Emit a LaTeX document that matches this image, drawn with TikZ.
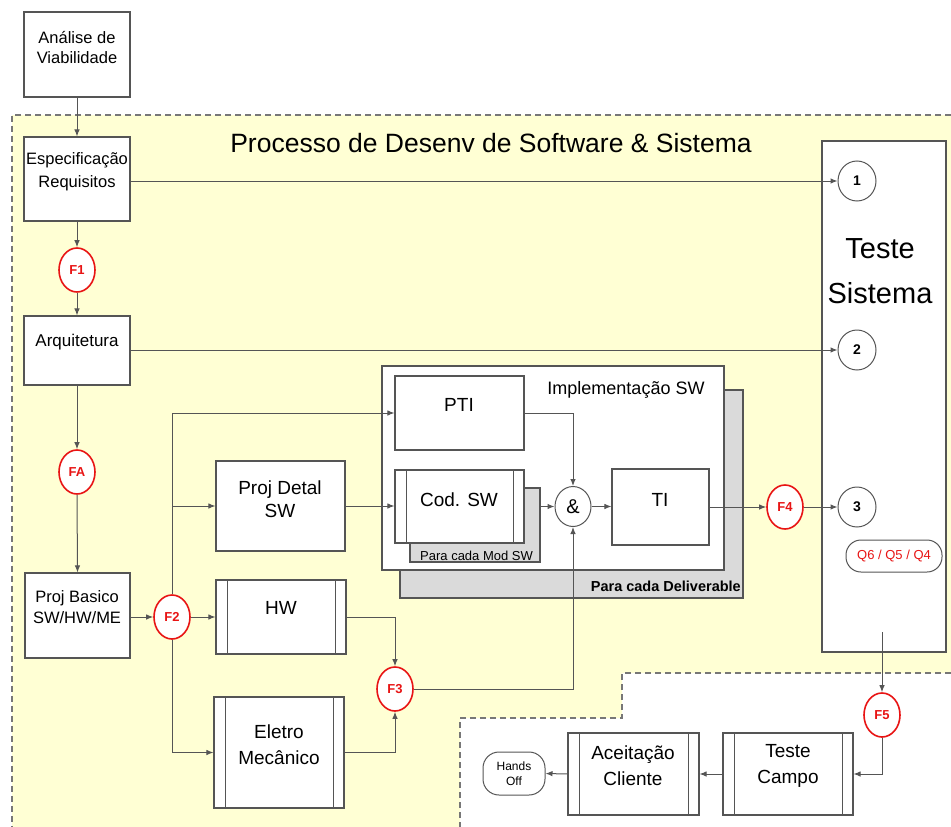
\documentclass[tikz,border=0pt]{standalone}
\usepackage{fontspec}
\setmainfont{Liberation Sans}
\usetikzlibrary{arrows.meta,shapes.geometric,calc}
\definecolor{bgyel}{RGB}{255,255,212}
\definecolor{ln}{RGB}{85,85,85}
\definecolor{shd}{RGB}{218,218,218}
\definecolor{fred}{RGB}{232,20,20}
\tikzset{
 box/.style={draw=ln, line width=1.1pt, fill=white, rectangle, inner sep=0pt},
 bars/.style={path picture={
   \draw[ln,line width=0.8pt] ([xshift=11pt]path picture bounding box.north west) -- ([xshift=11pt]path picture bounding box.south west);
   \draw[ln,line width=0.8pt] ([xshift=-11pt]path picture bounding box.north east) -- ([xshift=-11pt]path picture bounding box.south east);}},
 lblS/.style={font=\fontsize{17}{20}\selectfont, align=center, inner sep=0pt},
 lblM/.style={font=\fontsize{19}{23}\selectfont, align=center, inner sep=0pt},
 fnode/.style={ellipse, draw=fred, line width=1.6pt, fill=white, minimum width=36pt, minimum height=44pt, inner sep=0pt, text=fred, font=\bfseries\fontsize{13}{15}\selectfont},
 cnode/.style={ellipse, draw=ln, line width=1pt, fill=white, minimum width=38pt, minimum height=40pt, inner sep=0pt, font=\bfseries\fontsize{14}{16}\selectfont},
 arr/.style={draw=ln, line width=1pt, -{Latex[length=7pt,width=5.5pt]}},
 regdash/.style={draw=ln!80, line width=1.6pt, dash pattern=on 6pt off 4pt}
}
\begin{document}
\begin{tikzpicture}[x=1pt,y=-1pt]
\useasboundingbox (0,0) rectangle (951,827);
\fill[white] (0,0) rectangle (951,827);
% yellow region
\fill[bgyel] (12,115) -- (951,115) -- (951,673) -- (622,673) -- (622,718) -- (460,718) -- (460,827) -- (12,827) -- cycle;
\draw[regdash] (951,115) -- (12,115) -- (12,827);
\draw[regdash] (951,673) -- (622,673) -- (622,718) -- (460,718) -- (460,827);

\node[font=\fontsize{26.5}{30}\selectfont, inner sep=0pt] (title) at (491,143) {Processo de Desenv de Software \& Sistema};

% left column
\node[box, minimum width=106pt, minimum height=85pt] (ana) at (77,54.5) {};
\node[lblS, font=\fontsize{16.5}{20}\selectfont] (anat) at (77,48) {Análise de\\Viabilidade};
\node[box, minimum width=106pt, minimum height=84pt] (espec) at (77,179) {};
\node[lblS, font=\fontsize{16.5}{23}\selectfont] (espect) at (77,172) {Especificação\\Requisitos};
\node[fnode] (F1) at (77,270) {F1};
\node[box, minimum width=106pt, minimum height=69pt] (arq) at (77,350.5) {};
\node[lblS] (arqt) at (77,342) {Arquitetura};
\node[fnode] (FA) at (77,472) {FA};
\node[box, minimum width=105pt, minimum height=85pt] (pb) at (77.5,615.5) {};
\node[lblS, font=\fontsize{16.5}{21}\selectfont] (pbt) at (77,607) {Proj Basico\\SW/HW/ME};
\node[fnode] (F2) at (172,617) {F2};

% middle column
\node[box, minimum width=129pt, minimum height=90pt] (pd) at (280.5,506) {};
\node[lblM] (pdt) at (280,499) {Proj Detal\\SW};
\node[box, bars, minimum width=130pt, minimum height=74pt] (hw) at (281,617) {};
\node[lblM] (hwt) at (281,608) {HW};
\node[box, bars, minimum width=130pt, minimum height=111pt] (em) at (279,752.5) {};
\node[lblM, font=\fontsize{19}{26}\selectfont] (emt) at (279,745) {Eletro\\Mecânico};
\node[fnode] (F3) at (395,689) {F3};

% implementation block
\node[box, fill=shd, minimum width=343pt, minimum height=208pt] (deliv) at (571.5,494) {};
\node[font=\bfseries\fontsize{14.5}{16}\selectfont, anchor=east, inner sep=0pt] (delivt) at (741,586) {Para cada Deliverable};
\node[box, minimum width=342pt, minimum height=204pt] (impl) at (553,468) {};
\node[font=\fontsize{18}{20}\selectfont, inner sep=0pt] (implt) at (626,390) {Implementação SW};
\node[box, minimum width=129pt, minimum height=74pt] (pti) at (459.5,413) {};
\node[lblM] (ptit) at (459,405) {PTI};
\node[box, fill=shd, minimum width=130pt, minimum height=74pt] (cods) at (475,525) {};
\node[font=\fontsize{13}{15}\selectfont, anchor=west, inner sep=0pt] (codst) at (420,556) {Para cada Mod SW};
\node[box, bars, minimum width=129pt, minimum height=73pt] (cod) at (459.5,506.5) {};
\node[lblM] (codt) at (459,500) {Cod. SW};
\node[ellipse, draw=ln, line width=1pt, fill=white, minimum width=36pt, minimum height=40pt, inner sep=0pt, font=\fontsize{20}{22}\selectfont] (amp) at (573,506.5) {\&};
\node[box, minimum width=97pt, minimum height=76pt] (ti) at (660.5,507) {};
\node[lblM] (tit) at (660,500) {TI};
\node[fnode] (F4) at (785,507) {F4};

% Teste Sistema
\node[box, minimum width=124pt, minimum height=511pt] (ts) at (884,396.5) {};
\node[font=\fontsize{29}{45}\selectfont, align=center, inner sep=0pt] (tst) at (880,271) {Teste\\Sistema};
\node[cnode] (c1) at (857,181) {1};
\node[cnode] (c2) at (857,350) {2};
\node[cnode] (c3) at (857,507) {3};
\node[draw=ln, line width=1pt, fill=white, rounded corners=15pt, minimum width=96pt, minimum height=32pt, inner sep=0pt, text=fred, font=\fontsize{13}{15}\selectfont] (q) at (894,556) {Q6 / Q5 / Q4};
\coordinate (tsb) at (882,632);
\node[fnode] (F5) at (882,715) {F5};

% bottom row
\node[box, bars, minimum width=130pt, minimum height=82pt] (tc) at (788,774) {};
\node[lblM, font=\fontsize{19}{26}\selectfont] (tct) at (788,766) {Teste\\Campo};
\node[box, bars, minimum width=131pt, minimum height=82pt] (ac) at (633.5,774) {};
\node[lblM, font=\fontsize{19}{26}\selectfont] (act) at (633,766) {Aceitação\\Cliente};
\node[draw=ln, line width=1pt, fill=white, rounded corners=16pt, minimum width=62pt, minimum height=43pt, inner sep=0pt, align=center, font=\fontsize{12}{15}\selectfont] (ho) at (514,773.5) {Hands\\Off};

% connectors
\draw[arr] (ana.south) -- (espec.north);
\draw[arr] (espec.south) -- (F1.north);
\draw[arr] (F1.south) -- (arq.north);
\draw[arr] (arq.south) -- (FA.north);
\draw[arr] (FA.south) -- (pb.north);
\draw[arr] (espec.east |- c1.west) -- (c1.west);
\draw[arr] (arq.east |- c2.west) -- (c2.west);
\draw[arr] (pb.east |- F2.west) -- (F2.west);
\draw[arr] (F2.east) -- (hw.west);
\draw[arr] (F2.north) -- (F2.north |- pti.west) -- (pti.west);
\draw[arr] (F2.north |- pd.west) -- (pd.west);
\draw[arr] (F2.south) -- (F2.south |- em.west) -- (em.west);
\draw[arr] (pd.east) -- (cod.west |- pd.east);
\draw[arr] (pti.east) -| (amp.north);
\draw[arr] (cods.east |- amp.west) -- (amp.west);
\draw[arr] (amp.east) -- (ti.west |- amp.east);
\draw[arr] (ti.east) -- (F4.west);
\draw[arr] (F4.east) -- (c3.west);
\draw[arr] (hw.east) -| (F3.north);
\draw[arr] (em.east) -| (F3.south);
\draw[arr] (F3.east) -| (amp.south);
\draw[arr] (tsb) -- (F5.north);
\draw[arr] (F5.south) |- (tc.east);
\draw[arr] (tc.west) -- (ac.east);
\draw[arr] (ac.west) -- (ho.east);
\end{tikzpicture}
\end{document}
